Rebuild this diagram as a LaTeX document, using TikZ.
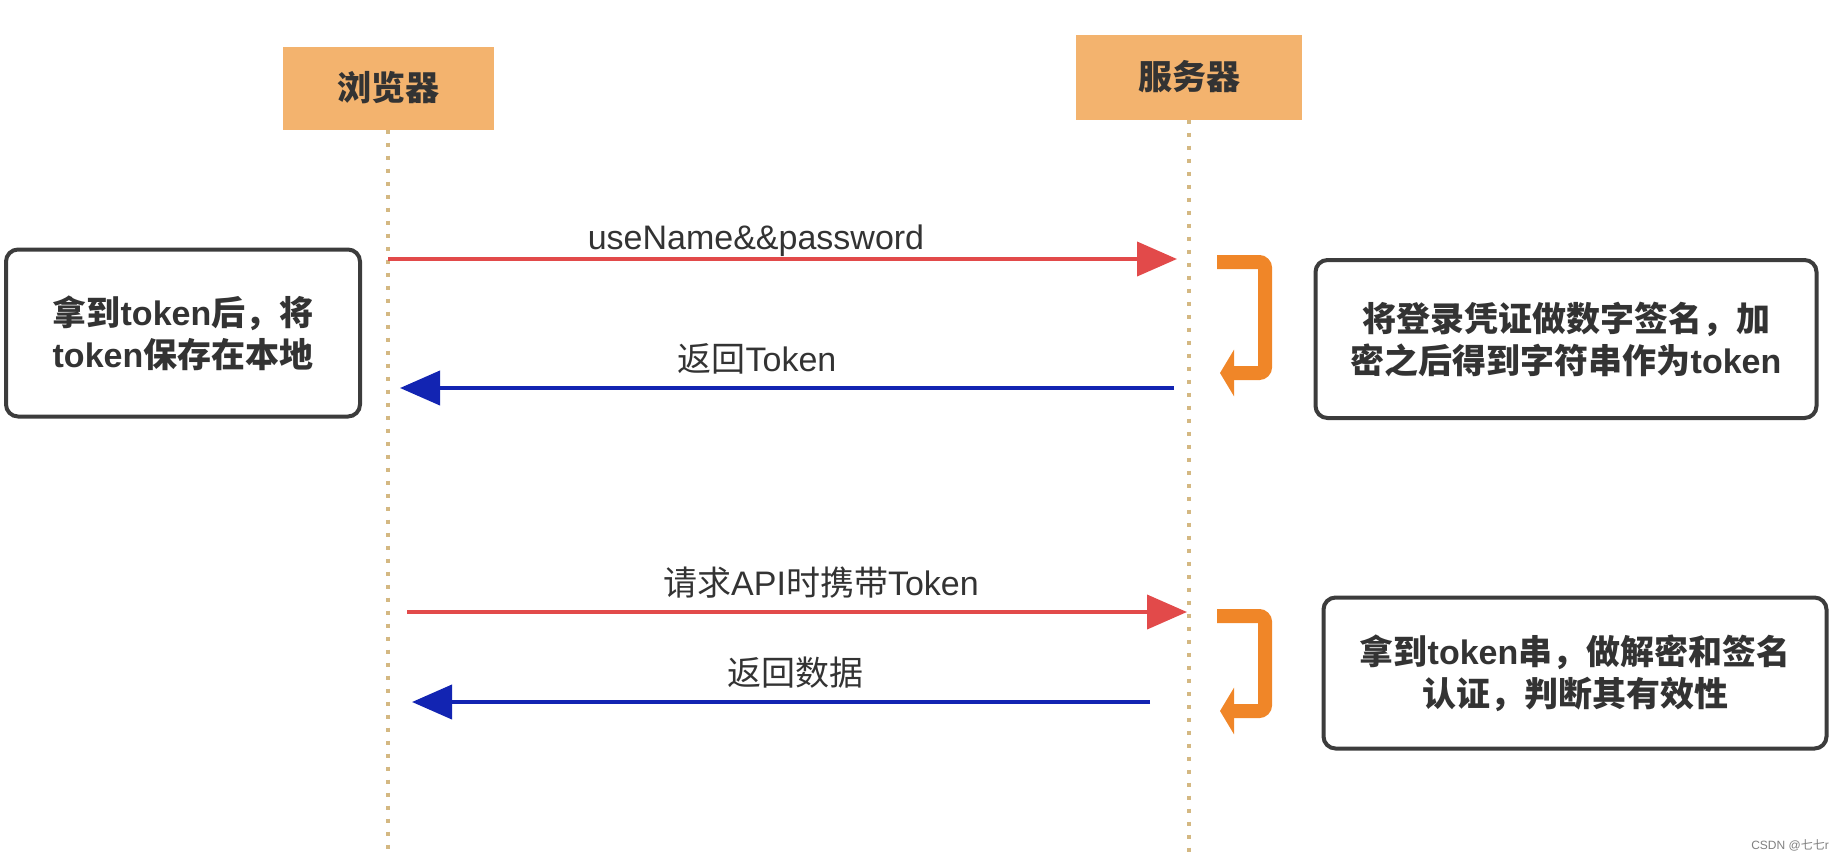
\documentclass[tikz,border=0pt]{standalone}
\usepackage{fontspec}
\setmainfont{Liberation Sans}
\newfontfamily\cjk{Noto Sans CJK SC}
\usetikzlibrary{positioning,arrows.meta}

\definecolor{boxorange}{RGB}{243,179,110}
\definecolor{textdark}{RGB}{51,51,51}
\definecolor{msgred}{RGB}{226,74,74}
\definecolor{msgblue}{RGB}{18,36,178}
\definecolor{hookorange}{RGB}{240,134,40}
\definecolor{lifetan}{RGB}{212,184,130}
\definecolor{framegray}{RGB}{60,60,60}

\newcommand{\zh}[1]{{\cjk #1}}

\begin{document}
\begin{tikzpicture}[
    x=1pt, y=-1pt,
    actornode/.style={rectangle, fill=boxorange, text=textdark, minimum width=211pt, minimum height=83pt, font=\fontsize{34}{42}\selectfont\bfseries\cjk},
    notenode/.style={rectangle, rounded corners=12pt, draw=framegray, line width=4pt, fill=white, text=textdark, align=center, font=\fontsize{34}{42}\selectfont\bfseries},
    msglabel/.style={text=textdark, inner sep=0pt, font=\fontsize{34}{40}\selectfont},
    lifeline/.style={draw=lifetan, line width=3.5pt, dash pattern=on 4pt off 9pt},
    request/.style={-{Triangle[length=40pt,width=34pt]}, draw=msgred, line width=4pt},
    response/.style={-{Triangle[length=40pt,width=34pt]}, draw=msgblue, line width=4pt},
    hook/.style={-{Triangle[length=14pt,width=46pt]}, draw=hookorange, line width=14pt, rounded corners=6pt}
    ]
        \useasboundingbox (0,0) rectangle (1846,860);

        %Actors
        \node[actornode]    
            (browser)   at (388,88)     {浏览器};
        \node[actornode, minimum width=226pt, minimum height=85pt]    
            (server)    at (1189,77)    {服务器};
        \coordinate (browserEnd) at (388,857);
        \coordinate (serverEnd)  at (1189,857);

        %Lifelines
        \draw[lifeline] (browser.south) -- (browserEnd);
        \draw[lifeline] (server.south) -- (serverEnd);

        %Message points
        \coordinate (b1) at (388,259);  \coordinate (s1) at (1177,259);
        \coordinate (s2) at (1174,388); \coordinate (b2) at (400,388);
        \coordinate (b3) at (407,612);  \coordinate (s3) at (1187,612);
        \coordinate (s4) at (1150,702); \coordinate (b4) at (412,702);

        %Messages
        \draw[request]  (b1) -- (s1);
        \draw[response] (s2) -- (b2);
        \draw[request]  (b3) -- (s3);
        \draw[response] (s4) -- (b4);
        \node[msglabel] (login)  at (756,241) {useName\&\&password};
        \node[msglabel] (back)   at (757,359) {\zh{返回}Token};
        \node[msglabel] (ask)    at (821,583) {\zh{请求}API\zh{时携带}Token};
        \node[msglabel] (data)   at (795,673) {\zh{返回数据}};

        %Server work
        \coordinate (hookA) at (1217,262);
        \coordinate (hookB) at (1220,373);
        \coordinate (hookC) at (1217,616);
        \coordinate (hookD) at (1220,711);
        \draw[hook] (hookA) -- ++(48,0) |- (hookB);
        \draw[hook] (hookC) -- ++(48,0) |- (hookD);

        %Notes
        \node[notenode, minimum width=354pt, minimum height=167pt]
            (store)     at (183,333)    {\zh{拿到}token\zh{后，将}\\token\zh{保存在本地}};
        \node[notenode, minimum width=501pt, minimum height=158pt]
            (sign)      at (1566,339)   {\zh{将登录凭证做数字签名，加}\\\zh{密之后得到字符串作为}token};
        \node[notenode, minimum width=503pt, minimum height=151pt]
            (verify)    at (1575,673)   {\zh{拿到}token\zh{串，做解密和签名}\\\zh{认证，判断其有效性}};

        \node[text=gray, font=\fontsize{12}{14}\selectfont] (mark) at (1790,845) {CSDN @\zh{七七}r};
    \end{tikzpicture}
\end{document}
